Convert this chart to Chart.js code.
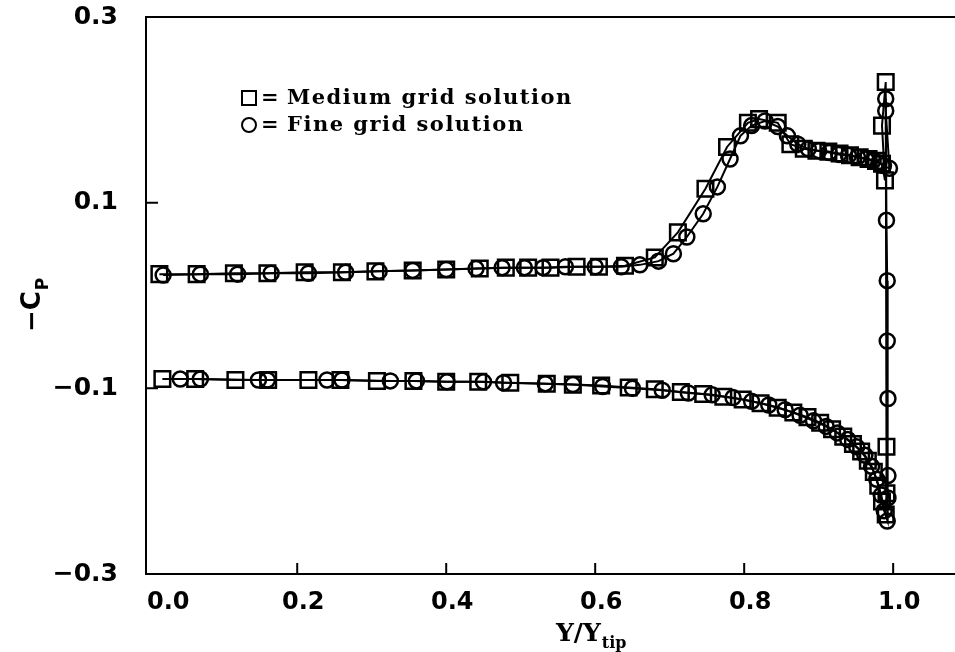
<!DOCTYPE html>
<html>
<head>
<meta charset="utf-8">
<title>Spanwise pressure distribution</title>
<script src="https://cdn.jsdelivr.net/npm/chart.js@4.4.1/dist/chart.umd.min.js"></script>
<style>
  html, body { margin: 0; padding: 0; background: #fff; }
  #cp { display: block; }
</style>
</head>
<body>
<canvas id="cp" width="955" height="652"></canvas>
<script>
// ======================= DATA =======================
// -Cp along the span (Y/Ytip). Each grid is one path: upper surface root->tip,
// down the tip edge, then lower surface tip->root.

const xTicks = [0.0, 0.2, 0.4, 0.6, 0.8, 1.0];
const yTicks = [-0.3, -0.1, 0.1, 0.3];

// Medium grid (squares)
const mediumUpperX = [0.015, 0.065, 0.115, 0.16, 0.21, 0.26, 0.305, 0.355, 0.40, 0.445, 0.48, 0.51, 0.54, 0.575, 0.605, 0.64,
  0.68, 0.711, 0.748, 0.777, 0.805, 0.82, 0.845, 0.862, 0.88, 0.897, 0.913, 0.928, 0.942, 0.955, 0.967, 0.977, 0.985];
const mediumUpperY = [0.023, 0.023, 0.024, 0.024, 0.025, 0.025, 0.026, 0.027, 0.028, 0.029, 0.030, 0.030, 0.030, 0.031, 0.031, 0.032,
  0.041, 0.068, 0.115, 0.160, 0.186, 0.190, 0.186, 0.163, 0.158, 0.156, 0.155, 0.153, 0.151, 0.149, 0.147, 0.145, 0.142];
const mediumTipX = [0.989, 0.985, 0.990, 0.991, 0.991, 0.990];
const mediumTipY = [0.124, 0.183, 0.230, -0.163, -0.213, -0.236];
const mediumLowerX = [0.985, 0.980, 0.974, 0.966, 0.957, 0.946, 0.933, 0.918, 0.902, 0.885, 0.866, 0.845, 0.822, 0.798, 0.772,
  0.745, 0.715, 0.68, 0.645, 0.608, 0.57, 0.535, 0.486, 0.443, 0.40, 0.356, 0.307, 0.258, 0.215, 0.161, 0.117, 0.063, 0.019];
const mediumLowerY = [-0.222, -0.205, -0.190, -0.178, -0.168, -0.160, -0.152, -0.144, -0.137, -0.131, -0.126, -0.121, -0.116, -0.112, -0.109,
  -0.106, -0.104, -0.101, -0.099, -0.097, -0.096, -0.095, -0.094, -0.093, -0.093, -0.092, -0.092, -0.091, -0.091, -0.091, -0.091, -0.090, -0.090];

// Fine grid (circles)
const fineUpperX = [0.02, 0.07, 0.12, 0.165, 0.215, 0.265, 0.31, 0.355, 0.40, 0.44, 0.475, 0.505, 0.53, 0.56, 0.60, 0.635,
  0.66, 0.685, 0.705, 0.723, 0.745, 0.764, 0.781, 0.795, 0.81, 0.828, 0.845, 0.858, 0.872, 0.886, 0.90, 0.914, 0.927, 0.94,
  0.952, 0.963, 0.973, 0.981, 0.987];
const fineUpperY = [0.022, 0.023, 0.023, 0.024, 0.024, 0.025, 0.026, 0.027, 0.028, 0.029, 0.030, 0.030, 0.030, 0.031, 0.031, 0.031,
  0.033, 0.037, 0.045, 0.063, 0.088, 0.117, 0.147, 0.172, 0.183, 0.188, 0.182, 0.172, 0.163, 0.158, 0.156, 0.154, 0.152, 0.151,
  0.149, 0.147, 0.145, 0.143, 0.140];
const fineTipX = [0.995, 0.990, 0.990, 0.991, 0.992, 0.992, 0.993, 0.993, 0.993, 0.992];
const fineTipY = [0.137, 0.199, 0.212, 0.081, 0.016, -0.049, -0.111, -0.194, -0.218, -0.243];
const fineLowerX = [0.988, 0.984, 0.978, 0.971, 0.962, 0.951, 0.939, 0.925, 0.91, 0.893, 0.875, 0.855, 0.833, 0.81, 0.785,
  0.757, 0.725, 0.69, 0.65, 0.61, 0.57, 0.533, 0.477, 0.45, 0.401, 0.36, 0.325, 0.26, 0.24, 0.16, 0.148, 0.07, 0.043];
const fineLowerY = [-0.232, -0.215, -0.198, -0.184, -0.172, -0.163, -0.155, -0.148, -0.141, -0.135, -0.129, -0.123, -0.118, -0.114, -0.110,
  -0.107, -0.105, -0.102, -0.100, -0.098, -0.096, -0.095, -0.094, -0.093, -0.093, -0.092, -0.092, -0.091, -0.091, -0.091, -0.091, -0.090, -0.090];

// ======================= HELPERS =======================

function toPoints(xs, ys) {
  return xs.map((x, i) => ({ x: x, y: ys[i] }));
}

function formatTick(value) {
  const s = Math.abs(value).toFixed(1);
  return value < 0 ? '\u2212' + s : s;
}

const ink = '#000';

// Frame (left, top, bottom), inward tick marks and the x tick labels
const framePlugin = {
  id: 'frame',
  afterDraw(chart) {
    const { ctx, chartArea: a, scales } = chart;
    ctx.save();
    ctx.strokeStyle = ink;
    ctx.lineWidth = 2;
    ctx.beginPath();
    ctx.moveTo(a.right, a.top);
    ctx.lineTo(a.left, a.top);
    ctx.lineTo(a.left, a.bottom);
    ctx.lineTo(a.right, a.bottom);
    xTicks.forEach(v => {
      if (v <= 0) return;
      const px = scales.x.getPixelForValue(v);
      ctx.moveTo(px, a.bottom);
      ctx.lineTo(px, a.bottom - 11);
    });
    yTicks.forEach(v => {
      const py = scales.y.getPixelForValue(v);
      if (py <= a.top + 1 || py >= a.bottom - 1) return;
      ctx.moveTo(a.left, py);
      ctx.lineTo(a.left + 12, py);
    });
    ctx.stroke();

    // x labels sit a little right of their ticks; the first one clears the corner
    ctx.fillStyle = ink;
    ctx.font = 'bold 24px "DejaVu Sans"';
    ctx.textAlign = 'center';
    ctx.textBaseline = 'middle';
    xTicks.forEach(v => {
      const px = scales.x.getPixelForValue(v);
      const shift = v === 0 ? 20 : 6;
      ctx.fillText(formatTick(v), px + shift, a.bottom + 29);
    });
    ctx.restore();
  }
};

// Symbol key inside the plot
const keyPlugin = {
  id: 'key',
  afterDraw(chart) {
    const { ctx } = chart;
    ctx.save();
    ctx.strokeStyle = ink;
    ctx.fillStyle = ink;
    ctx.lineWidth = 2;
    ctx.strokeRect(242, 91, 14, 14);
    ctx.beginPath();
    ctx.arc(249, 125, 7, 0, Math.PI * 2);
    ctx.stroke();
    ctx.font = 'bold 21px "DejaVu Serif"';
    ctx.letterSpacing = '1.5px';
    ctx.textBaseline = 'middle';
    ctx.fillText('=', 261, 99);
    ctx.fillText('=', 261, 126);
    ctx.fillText('Medium grid solution', 287, 99);
    ctx.fillText('Fine grid solution', 287, 126);
    ctx.restore();
  }
};

// Axis titles with subscripts
const titlePlugin = {
  id: 'titles',
  afterDraw(chart) {
    const { ctx } = chart;
    ctx.save();
    ctx.fillStyle = ink;
    ctx.textBaseline = 'alphabetic';

    // x title: Y/Y_tip
    ctx.font = 'bold 25px "DejaVu Serif"';
    const main = 'Y/Y';
    const w = ctx.measureText(main).width;
    const x0 = 556;
    ctx.fillText(main, x0, 641);
    ctx.font = 'bold 16px "DejaVu Serif"';
    ctx.fillText('tip', x0 + w + 1, 648);

    // y title: -C_P, rotated
    ctx.translate(40, 300);
    ctx.rotate(-Math.PI / 2);
    ctx.font = 'bold 26px "DejaVu Sans"';
    ctx.fillText('\u2212C', -32, 0);
    const cw = ctx.measureText('\u2212C').width;
    ctx.font = 'bold 17px "DejaVu Sans"';
    ctx.fillText('P', -32 + cw + 1, 8);
    ctx.restore();
  }
};

// ======================= CHART =======================

function renderCpChart(canvasId) {
  const ctx = document.getElementById(canvasId);
  if (!ctx) {
    console.warn(`Canvas element ${canvasId} not found`);
    return null;
  }

  const lineStyle = {
    showLine: true,
    borderColor: ink,
    borderWidth: 2,
    backgroundColor: 'rgba(0,0,0,0)',
    pointBorderColor: ink,
    pointBackgroundColor: 'rgba(0,0,0,0)',
    pointBorderWidth: 2.5,
    tension: 0,
    clip: false
  };

  return new Chart(ctx, {
    type: 'scatter',
    data: {
      datasets: [
        {
          ...lineStyle,
          label: 'Medium grid solution',
          data: toPoints(
            mediumUpperX.concat(mediumTipX, mediumLowerX),
            mediumUpperY.concat(mediumTipY, mediumLowerY)
          ),
          pointStyle: 'rect',
          pointRadius: 11
        },
        {
          ...lineStyle,
          label: 'Fine grid solution',
          data: toPoints(
            fineUpperX.concat(fineTipX, fineLowerX),
            fineUpperY.concat(fineTipY, fineLowerY)
          ),
          pointStyle: 'circle',
          pointRadius: 7.5
        }
      ]
    },
    options: {
      responsive: false,
      animation: false,
      layout: {
        autoPadding: false,
        padding: { top: 17, right: 0, left: 0, bottom: 0 }
      },
      plugins: {
        legend: { display: false },
        tooltip: { enabled: false }
      },
      scales: {
        x: {
          type: 'linear',
          min: -0.003,
          max: 1.083,
          afterBuildTicks: (scale) => { scale.ticks = xTicks.map(v => ({ value: v })); },
          afterFit: (scale) => { scale.height = 78; },
          grid: { display: false, drawTicks: false },
          border: { display: false },
          ticks: { display: false }
        },
        y: {
          type: 'linear',
          min: -0.3,
          max: 0.3,
          afterBuildTicks: (scale) => { scale.ticks = yTicks.map(v => ({ value: v })); },
          afterFit: (scale) => {
            scale.width = 146;
            scale.paddingTop = 0;
            scale.paddingBottom = 0;
          },
          grid: { display: false, drawTicks: false },
          border: { display: false },
          ticks: {
            color: ink,
            font: { family: 'DejaVu Sans', weight: 'bold', size: 25 },
            padding: 28,
            callback: (value) => formatTick(value)
          }
        }
      }
    },
    plugins: [framePlugin, keyPlugin, titlePlugin]
  });
}

renderCpChart('cp');
</script>
</body>
</html>
